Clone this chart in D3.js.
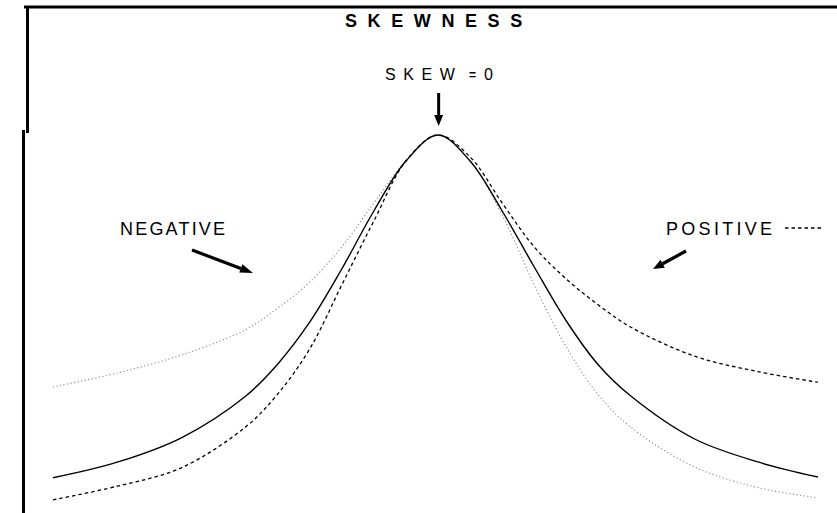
<!DOCTYPE html>
<html>
<head>
<meta charset="utf-8">
<script src="https://cdn.jsdelivr.net/npm/d3@7"></script>
<style>
  html, body { margin: 0; padding: 0; background: #fff; }
  svg { display: block; }
</style>
</head>
<body>
<svg id="chart" width="837" height="513"></svg>
<script>
// ---- data (x in standard deviations, y relative frequency) ----
const xValues = [-3, -2.5, -2, -1.5, -1.25, -1, -0.75, -0.5, -0.25, 0, 0.25, 0.5, 0.75, 1, 1.25, 1.5, 2, 2.5, 2.96];
const skewZero     = [0.143, 0.182, 0.243, 0.347, 0.427, 0.532, 0.665, 0.81, 0.935, 1.0, 0.935, 0.81, 0.67, 0.535, 0.425, 0.348, 0.24, 0.182, 0.145];
const skewPositive = [0.088, 0.122, 0.168, 0.27, 0.352, 0.465, 0.625, 0.785, 0.935, 1.0, 0.945, 0.83, 0.72, 0.64, 0.575, 0.52, 0.447, 0.408, 0.382];
const skewNegative = [0.37, 0.405, 0.45, 0.513, 0.567, 0.632, 0.72, 0.83, 0.935, 1.0, 0.935, 0.80, 0.625, 0.47, 0.35, 0.27, 0.17, 0.118, 0.093];
const titleText = "SKEWNESS";
const zeroLabel = ["SKEW", "=", "0"];
const negLabel = "NEGATIVE";
const posLabel = "POSITIVE";

const svg = d3.select("#chart");
const x = d3.scaleLinear().domain([-3, 3]).range([53, 823]);
const y = d3.scaleLinear().domain([0, 1]).range([535, 135]);

const FONT = "'Liberation Sans', Arial, Helvetica, sans-serif";

// frame
svg.append("line").attr("x1", 24).attr("x2", 837).attr("y1", 7).attr("y2", 7)
  .attr("stroke", "#000").attr("stroke-width", 3);
svg.append("line").attr("x1", 27.5).attr("x2", 27.5).attr("y1", 6).attr("y2", 133)
  .attr("stroke", "#000").attr("stroke-width", 3);
svg.append("line").attr("x1", 23.5).attr("x2", 23.5).attr("y1", 130).attr("y2", 513)
  .attr("stroke", "#000").attr("stroke-width", 3);

// curves
const line = d3.line().x(d => x(d[0])).y(d => y(d[1])).curve(d3.curveCatmullRom.alpha(0.5));
const series = [
  { vals: skewNegative, stroke: "#8a8a8a", width: 1.1, dash: "1.2,2.4" },
  { vals: skewPositive, stroke: "#000", width: 1.3, dash: "3.5,3" },
  { vals: skewZero, stroke: "#000", width: 1.4, dash: null }
];
series.forEach(s => {
  svg.append("path")
    .datum(xValues.map((xv, i) => [xv, s.vals[i]]))
    .attr("d", line)
    .attr("fill", "none")
    .attr("stroke", s.stroke)
    .attr("stroke-width", s.width)
    .attr("stroke-dasharray", s.dash);
});

// title
svg.append("text").attr("x", 345).attr("y", 27)
  .attr("font-family", FONT).attr("font-weight", "bold").attr("font-size", 18)
  .attr("letter-spacing", "10.6px").attr("fill", "#000").text(titleText);

// SKEW = 0 label
const zt = svg.append("text").attr("y", 80).attr("font-family", FONT).attr("fill", "#000");
zt.append("tspan").attr("x", 385).attr("font-size", 16).attr("letter-spacing", "7.6px").text(zeroLabel[0]);
zt.append("tspan").attr("x", 469).attr("font-size", 12).attr("font-weight", "bold").attr("dy", -1).text(zeroLabel[1]);
zt.append("tspan").attr("x", 484).attr("font-size", 16).attr("dy", 1).text(zeroLabel[2]);

// arrows
function arrow(x1, y1, x2, y2, w, headLen, headW) {
  const ang = Math.atan2(y2 - y1, x2 - x1);
  const bx = x2 - headLen * Math.cos(ang), by = y2 - headLen * Math.sin(ang);
  svg.append("line").attr("x1", x1).attr("y1", y1).attr("x2", bx).attr("y2", by)
    .attr("stroke", "#000").attr("stroke-width", w);
  const px = -Math.sin(ang) * headW / 2, py = Math.cos(ang) * headW / 2;
  svg.append("polygon")
    .attr("points", [[x2, y2], [bx + px, by + py], [bx - px, by - py]].map(p => p.join(",")).join(" "))
    .attr("fill", "#000");
}
arrow(x(0.005), 93, x(0.005), 126, 3, 11, 9);
arrow(192, 250, 253, 273, 3.2, 13, 9);
arrow(686, 251, 653, 269, 3.2, 11, 9);

// NEGATIVE / POSITIVE labels
svg.append("text").attr("x", 120).attr("y", 235)
  .attr("font-family", FONT).attr("font-size", 18).attr("letter-spacing", "2.2px")
  .attr("fill", "#000").text(negLabel);
svg.append("text").attr("x", 666).attr("y", 235)
  .attr("font-family", FONT).attr("font-size", 18).attr("letter-spacing", "3.3px")
  .attr("fill", "#000").text(posLabel);
svg.append("line").attr("x1", 785).attr("x2", 822).attr("y1", 228).attr("y2", 228)
  .attr("stroke", "#000").attr("stroke-width", 1.3).attr("stroke-dasharray", "3.5,3");
</script>
</body>
</html>
